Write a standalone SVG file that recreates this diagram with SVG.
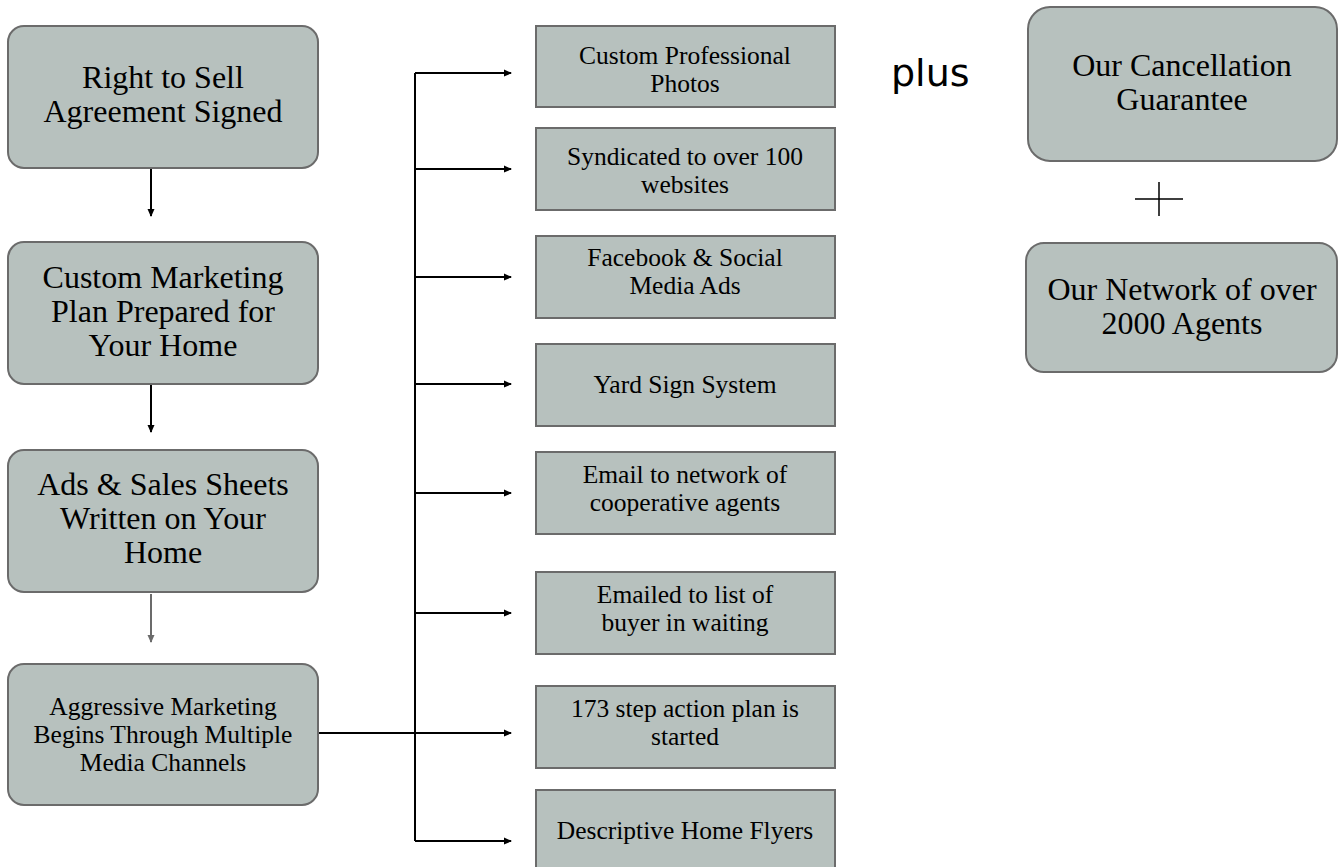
<svg xmlns="http://www.w3.org/2000/svg" width="1339" height="867" viewBox="0 0 1339 867">
<style>
.rbox{fill:#b7c1be;stroke:#6b6b6b;stroke-width:2}
.sbox{fill:#b7c1be;stroke:#6b6b6b;stroke-width:2}
.big{font-family:"Liberation Serif","Times New Roman",serif;font-size:32px;fill:#000;text-anchor:middle}
.sm{font-family:"Liberation Serif","Times New Roman",serif;font-size:25.5px;fill:#000;text-anchor:middle}
.ln{fill:none;stroke:#000;stroke-width:2}
.lg{fill:none;stroke:#6b6b6b;stroke-width:2}
</style>
<defs>
<marker id="ah" markerWidth="8" markerHeight="8" refX="7" refY="4" orient="auto" markerUnits="userSpaceOnUse"><path d="M0,0.5 L8,4 L0,7.5 Z" fill="#000"/></marker>
<marker id="ahg" markerWidth="8" markerHeight="8" refX="7" refY="4" orient="auto" markerUnits="userSpaceOnUse"><path d="M0,0.5 L8,4 L0,7.5 Z" fill="#6b6b6b"/></marker>
</defs>
<rect width="1339" height="867" fill="#fff"/>

<g id="connectors">
<path class="ln" d="M151,168 V216" marker-end="url(#ah)"/>
<path class="ln" d="M151,384 V432" marker-end="url(#ah)"/>
<path class="lg" d="M151,594 V642" marker-end="url(#ahg)"/>
<path class="ln" d="M318,733 H511" marker-end="url(#ah)"/>
<path class="ln" d="M415,73 V841"/>
<path class="ln" d="M415,73 H511" marker-end="url(#ah)"/>
<path class="ln" d="M415,169 H511" marker-end="url(#ah)"/>
<path class="ln" d="M415,277 H511" marker-end="url(#ah)"/>
<path class="ln" d="M415,384 H511" marker-end="url(#ah)"/>
<path class="ln" d="M415,493 H511" marker-end="url(#ah)"/>
<path class="ln" d="M415,613 H511" marker-end="url(#ah)"/>
<path class="ln" d="M415,841 H511" marker-end="url(#ah)"/>
</g>

<g id="n1"><rect class="rbox" x="8" y="26" width="310" height="142" rx="16"/>
<text class="big" x="163" y="88">Right to Sell</text><text class="big" x="163" y="122">Agreement Signed</text></g>
<g id="n2"><rect class="rbox" x="8" y="242" width="310" height="142" rx="16"/>
<text class="big" x="163" y="288">Custom Marketing</text><text class="big" x="163" y="322">Plan Prepared for</text><text class="big" x="163" y="356">Your Home</text></g>
<g id="n3"><rect class="rbox" x="8" y="450" width="310" height="142" rx="16"/>
<text class="big" x="163" y="495">Ads &amp; Sales Sheets</text><text class="big" x="163" y="529">Written on Your</text><text class="big" x="163" y="563">Home</text></g>
<g id="n4"><rect class="rbox" x="8" y="664" width="310" height="141" rx="16"/>
<text class="sm" x="163" y="715">Aggressive Marketing</text><text class="sm" x="163" y="743">Begins Through Multiple</text><text class="sm" x="163" y="771">Media Channels</text></g>

<g id="m1"><rect class="sbox" x="536" y="26" width="299" height="81"/>
<text class="sm" x="685" y="64">Custom Professional</text><text class="sm" x="685" y="92">Photos</text></g>
<g id="m2"><rect class="sbox" x="536" y="128" width="299" height="82"/>
<text class="sm" x="685" y="165">Syndicated to over 100</text><text class="sm" x="685" y="193">websites</text></g>
<g id="m3"><rect class="sbox" x="536" y="236" width="299" height="82"/>
<text class="sm" x="685" y="266">Facebook &amp; Social</text><text class="sm" x="685" y="294">Media Ads</text></g>
<g id="m4"><rect class="sbox" x="536" y="344" width="299" height="82"/>
<text class="sm" x="685" y="393">Yard Sign System</text></g>
<g id="m5"><rect class="sbox" x="536" y="452" width="299" height="82"/>
<text class="sm" x="685" y="483">Email to network of</text><text class="sm" x="685" y="511">cooperative agents</text></g>
<g id="m6"><rect class="sbox" x="536" y="572" width="299" height="82"/>
<text class="sm" x="685" y="603">Emailed to list of</text><text class="sm" x="685" y="631">buyer in waiting</text></g>
<g id="m7"><rect class="sbox" x="536" y="686" width="299" height="82"/>
<text class="sm" x="685" y="717">173 step action plan is</text><text class="sm" x="685" y="745">started</text></g>
<g id="m8"><rect class="sbox" x="536" y="790" width="299" height="82"/>
<text class="sm" x="685" y="839">Descriptive Home Flyers</text></g>

<g id="plus-label"><text x="891" y="86" font-family="'DejaVu Sans',sans-serif" font-size="38" fill="#000">plus</text></g>

<g id="r1"><rect class="rbox" x="1028" y="7" width="309" height="154" rx="22"/>
<text class="big" x="1182" y="76">Our Cancellation</text><text class="big" x="1182" y="110">Guarantee</text></g>
<g id="plus-sign"><path d="M1135,199 H1183 M1159,182 V216" stroke="#000" stroke-width="1.5" fill="none"/></g>
<g id="r2"><rect class="rbox" x="1026" y="243" width="311" height="129" rx="18"/>
<text class="big" x="1182" y="300">Our Network of over</text><text class="big" x="1182" y="334">2000 Agents</text></g>
</svg>
